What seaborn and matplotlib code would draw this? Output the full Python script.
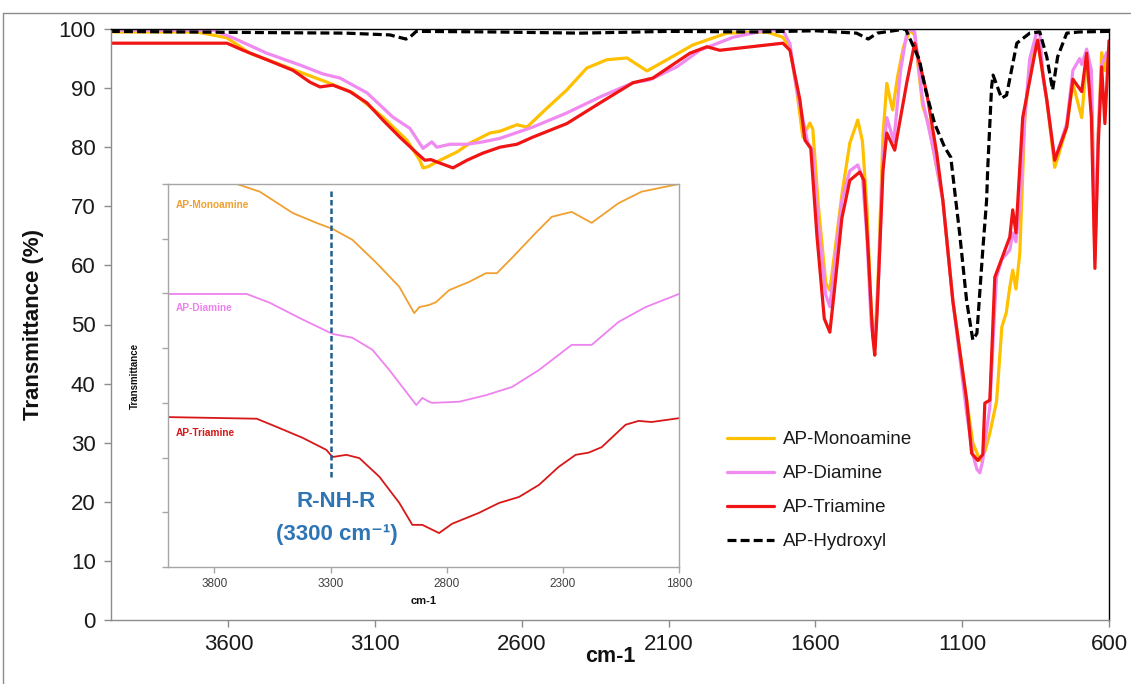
import matplotlib
matplotlib.use("Agg")
import matplotlib.pyplot as plt
from matplotlib.lines import Line2D
import seaborn as sns

# ---------------- FTIR spectra (wavenumber in cm-1, transmittance in %) ----------------
wn_mono = [4000, 3707, 3605, 3527, 3435, 3356, 3264, 3176, 3074, 2992, 2948, 2937, 2920,
           2879, 2821, 2777, 2709, 2675, 2617, 2583, 2515, 2447, 2379, 2311, 2242, 2174,
           2106, 2018, 1902, 1766, 1711, 1687, 1665, 1643, 1619, 1609, 1590, 1565, 1551,
           1535, 1510, 1483, 1456, 1440, 1425, 1410, 1398, 1385, 1370, 1357, 1345, 1337,
           1320, 1300, 1278, 1262, 1235, 1215, 1200, 1166, 1132, 1085, 1064, 1040, 1023,
           1006, 983, 965, 950, 938, 928, 917, 904, 887, 870, 846, 843, 825, 812, 785,
           770, 744, 723, 693, 676, 660, 648, 637, 625, 614, 600]
t_mono = [99.5, 99.5, 98.5, 95.9, 94.2, 92.7, 91.0, 89.2, 85.1, 81.2, 77.8, 76.5, 76.7,
          77.8, 79.2, 80.7, 82.4, 82.7, 83.8, 83.4, 86.6, 89.7, 93.4, 94.8, 95.1, 92.9,
          94.8, 97.3, 99.3, 99.5, 98.6, 96.8, 90.0, 81.7, 84.1, 83.0, 70.0, 57.0, 55.8,
          62.0, 72.0, 80.7, 84.6, 81.0, 70.0, 52.0, 46.0, 60.0, 82.0, 90.8, 88.0, 86.3,
          92.0, 97.0, 99.8, 99.0, 87.0, 84.0, 80.0, 71.0, 54.0, 37.2, 30.0, 27.0, 28.5,
          31.6, 37.0, 49.6, 52.0, 56.3, 59.2, 56.0, 62.0, 84.6, 94.0, 97.6, 98.1, 92.0,
          88.0, 76.6, 79.0, 83.4, 90.8, 85.0, 94.8, 92.0, 62.0, 82.0, 96.0, 93.0, 97.0]

wn_di = [4000, 3652, 3584, 3469, 3356, 3278, 3220, 3128, 3040, 2982, 2937, 2907, 2890,
         2845, 2787, 2733, 2675, 2563, 2447, 2334, 2222, 2164, 2072, 1994, 1881, 1766,
         1711, 1687, 1665, 1626, 1610, 1590, 1565, 1551, 1535, 1510, 1483, 1456, 1440,
         1425, 1410, 1398, 1385, 1370, 1357, 1345, 1333, 1310, 1290, 1278, 1262, 1235,
         1200, 1166, 1132, 1085, 1064, 1050, 1040, 1030, 1023, 1006, 990, 983, 965, 938,
         928, 917, 904, 887, 870, 846, 836, 825, 812, 785, 770, 744, 723, 700, 693, 676,
         660, 648, 637, 625, 608, 600]
t_di = [99.8, 99.8, 98.5, 95.9, 93.9, 92.4, 91.7, 89.2, 85.1, 83.2, 79.8, 80.9, 80.0,
        80.5, 80.5, 80.9, 81.5, 83.4, 85.8, 88.5, 90.9, 91.4, 93.6, 96.4, 98.6, 99.8,
        99.8, 97.5, 90.0, 80.7, 79.5, 67.0, 55.0, 53.0, 60.0, 71.0, 76.0, 77.0, 75.0,
        65.0, 50.0, 46.0, 58.0, 78.0, 85.0, 83.0, 81.0, 93.0, 99.0, 100.0, 99.5, 88.0,
        80.0, 71.0, 54.0, 35.0, 28.0, 25.5, 24.9, 27.0, 30.0, 36.0, 52.0, 58.0, 61.0,
        62.6, 65.5, 64.0, 70.0, 85.0, 95.0, 99.5, 99.5, 92.0, 88.0, 78.0, 80.0, 84.0,
        93.0, 95.0, 94.0, 96.6, 93.0, 61.0, 82.0, 93.9, 96.0, 95.0]

wn_tri = [4000, 3605, 3550, 3469, 3380, 3322, 3288, 3244, 3186, 3128, 3074, 3016, 2958,
          2931, 2910, 2879, 2835, 2787, 2733, 2675, 2617, 2563, 2447, 2334, 2222, 2154,
          2028, 1970, 1926, 1711, 1687, 1653, 1636, 1616, 1595, 1570, 1551, 1535, 1510,
          1483, 1449, 1435, 1420, 1405, 1398, 1390, 1370, 1357, 1330, 1289, 1262, 1221,
          1187, 1166, 1132, 1085, 1068, 1047, 1030, 1023, 1006, 989, 938, 928, 917, 894,
          846, 843, 812, 785, 744, 723, 693, 676, 660, 648, 637, 625, 614, 600]
t_tri = [97.6, 97.6, 96.4, 94.8, 93.0, 91.0, 90.2, 90.5, 89.4, 87.5, 84.6, 81.7, 79.0,
         77.8, 77.9, 77.3, 76.5, 77.8, 79.0, 80.0, 80.5, 81.7, 84.0, 87.5, 90.9, 91.7,
         95.9, 97.0, 96.4, 97.6, 96.4, 88.0, 81.2, 79.8, 65.0, 51.0, 48.7, 56.0, 68.0,
         74.4, 75.8, 74.4, 62.0, 48.0, 44.8, 52.0, 76.0, 82.4, 79.5, 90.9, 97.6, 89.2,
         79.0, 71.0, 54.0, 37.2, 28.2, 27.0, 28.0, 36.7, 37.2, 58.0, 64.8, 69.4, 65.5,
         85.0, 97.6, 98.1, 88.0, 77.8, 83.4, 91.5, 89.4, 95.9, 85.0, 59.5, 80.0, 93.6,
         84.0, 98.0]

wn_hyd = [4000, 3500, 3200, 3050, 2995, 2982, 2960, 2700, 2400, 2100, 1800, 1600, 1460,
          1420, 1390, 1293, 1246, 1225, 1194, 1160, 1139, 1122, 1109, 1085, 1064, 1050,
          1030, 1017, 1013, 1000, 995, 966, 949, 914, 870, 836, 812, 792, 775, 744, 700, 600]
t_hyd = [99.6, 99.4, 99.3, 99.0, 98.3, 98.6, 99.6, 99.5, 99.3, 99.6, 99.5, 99.7, 99.3,
         98.3, 99.3, 100.0, 94.8, 89.7, 84.0, 80.0, 78.3, 71.0, 65.5, 54.0, 47.4, 48.5,
         62.6, 71.0, 76.6, 90.2, 92.2, 88.3, 88.8, 97.6, 99.3, 99.5, 95.3, 89.7, 95.3,
         99.3, 99.5, 99.6]

series_labels = ["AP-Monoamine", "AP-Diamine", "AP-Triamine", "AP-Hydroxyl"]
series_colors = ["#FFC000", "#F08AF0", "#F01414", "#000000"]

x_ticks = [3600, 3100, 2600, 2100, 1600, 1100, 600]
y_ticks = [0, 10, 20, 30, 40, 50, 60, 70, 80, 90, 100]

# ---------------- Inset: 4000-1800 cm-1 region, offset traces (arb. units) ----------------
in_wn_mono = [4000, 3704, 3605, 3463, 3361, 3292, 3206, 3103, 3004, 2940, 2918, 2875, 2846,
              2790, 2704, 2631, 2584, 2519, 2416, 2348, 2262, 2176, 2060, 1961, 1800]
in_t_mono = [70.0, 70.0, 68.6, 64.7, 62.9, 61.8, 59.8, 55.6, 51.2, 46.4, 47.5, 47.9, 48.4,
             50.6, 52.1, 53.7, 53.7, 56.5, 61.1, 64.0, 64.9, 62.9, 66.5, 68.6, 70.0]

in_wn_di = [4000, 3661, 3562, 3433, 3292, 3206, 3120, 3047, 2931, 2905, 2876, 2863, 2747,
            2631, 2519, 2403, 2262, 2176, 2060, 1944, 1800]
in_t_di = [49.9, 49.9, 48.3, 45.5, 42.6, 41.9, 39.7, 36.0, 29.6, 30.9, 30.2, 30.0, 30.2,
           31.4, 32.9, 36.0, 40.6, 40.6, 44.8, 47.5, 49.9]

in_wn_tri = [4000, 3618, 3532, 3420, 3318, 3292, 3232, 3176, 3090, 3004, 2948, 2905, 2876,
             2833, 2777, 2661, 2575, 2489, 2403, 2318, 2245, 2189, 2133, 2030, 1974, 1918, 1800]
in_t_tri = [27.4, 27.1, 25.6, 23.6, 21.4, 20.1, 20.5, 19.9, 16.5, 11.7, 7.7, 7.7, 7.1,
            6.2, 7.9, 9.9, 11.7, 12.8, 15.0, 18.3, 20.5, 20.9, 21.9, 26.0, 26.7, 26.5, 27.2]

inset_colors = ["#F0A030", "#EE82EE", "#D81818"]
inset_x_ticks = [3800, 3300, 2800, 2300, 1800]
inset_y_ticks = [0, 10, 20, 30, 40, 50, 60, 70]

nh_band = 3300            # secondary amine band marked in the inset
nh_band_span = (16.5, 69.0)

# ---------------- Figure ----------------
sns.set_theme(style="white")
plt.rcParams["font.family"] = ["Liberation Sans", "DejaVu Sans"]

W, H = 1131, 684
fig = plt.figure(figsize=(W / 100, H / 100), dpi=100)
fig.patch.set_facecolor("white")

# chart-area border (top and left edges visible)
fig.add_artist(Line2D([3 / W, 1.0], [1 - 13 / H, 1 - 13 / H], transform=fig.transFigure,
                      color="#8c8c8c", lw=1.0))
fig.add_artist(Line2D([3 / W, 3 / W], [0, 1 - 13 / H], transform=fig.transFigure,
                      color="#8c8c8c", lw=1.0))

ax = fig.add_axes([111 / W, (H - 620) / H, (1109 - 111) / W, (620 - 29) / H])

main_data = [(wn_mono, t_mono), (wn_di, t_di), (wn_tri, t_tri), (wn_hyd, t_hyd)]
for (wn, t), lab, col in zip(main_data, series_labels, series_colors):
    sns.lineplot(x=wn, y=t, ax=ax, color=col, lw=2.3, label=lab, estimator=None)
ax.lines[-1].set_dashes([2.8, 1.3])

ax.set_xlim(4000, 600)
ax.set_ylim(0, 100)
ax.set_xticks(x_ticks)
ax.set_yticks(y_ticks)
ax.tick_params(axis="both", which="both", bottom=True, left=True, direction="out",
               length=5, width=1, color="#8c8c8c", labelsize=16, labelcolor="#1a1a1a")
ax.tick_params(axis="x", pad=5)
ax.tick_params(axis="y", pad=6)
for side in ("left", "bottom"):
    ax.spines[side].set_color("#8c8c8c")
    ax.spines[side].set_linewidth(1.0)
for side in ("top", "right"):
    ax.spines[side].set_color("#000000")
    ax.spines[side].set_linewidth(1.0)

ax.set_xlabel("cm-1", fontsize=15.5, fontweight="bold", color="#111111")
ax.set_ylabel("Transmittance (%)", fontsize=16, fontweight="bold", color="#111111")
ax.xaxis.set_label_coords(0.5, (620 - 646) / 591)
ax.yaxis.set_label_coords((44 - 111) / 998, 0.5)

leg = ax.legend(loc="upper left", bbox_to_anchor=(727 / W, (H - 431) / H),
                bbox_transform=fig.transFigure, frameon=False, fontsize=13.5,
                handlelength=2.5, handletextpad=0.5, labelspacing=0.9,
                borderpad=0, borderaxespad=0)
for txt in leg.get_texts():
    txt.set_color("#1a1a1a")

# ---------------- Inset axes ----------------
axin = fig.add_axes([168 / W, (H - 567) / H, (679 - 168) / W, (567 - 184) / H])
axin.set_facecolor("white")
axin.set_zorder(5)

inset_data = [(in_wn_mono, in_t_mono), (in_wn_di, in_t_di), (in_wn_tri, in_t_tri)]
for (wn, t), col in zip(inset_data, inset_colors):
    sns.lineplot(x=wn, y=t, ax=axin, color=col, lw=1.3, estimator=None)

axin.plot([nh_band, nh_band], list(nh_band_span), color="#1F5F8F", lw=1.8,
          dashes=[2.2, 1.2])
axin.text(3277, 11.9, "R-NH-R", ha="center", va="center", color="#2E75B6",
          fontsize=16, fontweight="bold")
axin.text(3275, 5.85, f"({nh_band} cm\u207b\u00b9)", ha="center", va="center",
          color="#2E75B6", fontsize=16, fontweight="bold")

axin.text(3966, 66.2, series_labels[0], color=inset_colors[0], fontsize=7.3,
          fontweight="bold", ha="left", va="center")
axin.text(3966, 47.3, series_labels[1], color=inset_colors[1], fontsize=7.3,
          fontweight="bold", ha="left", va="center")
axin.text(3966, 24.5, series_labels[2], color=inset_colors[2], fontsize=7.3,
          fontweight="bold", ha="left", va="center")

axin.set_xlim(4000, 1800)
axin.set_ylim(0, 70)
axin.set_xticks(inset_x_ticks)
axin.set_yticks(inset_y_ticks)
axin.set_yticklabels([])
axin.tick_params(axis="both", bottom=True, left=True, direction="out", length=4,
                 width=1, color="#a6a6a6", labelsize=8.5, labelcolor="#404040", pad=4)
for side in axin.spines:
    axin.spines[side].set_color("#a6a6a6")
    axin.spines[side].set_linewidth(1.0)
axin.set_xlabel("cm-1", fontsize=8, fontweight="bold", color="#111111", labelpad=2)
axin.set_ylabel("Transmittance", fontsize=7, fontweight="bold", color="#111111")
axin.yaxis.set_label_coords((140 - 168) / 511, 0.5)
axin.xaxis.set_label_coords(0.5, (567 - 596) / 383)
if axin.get_legend() is not None:
    axin.get_legend().remove()

fig.savefig("out.png", dpi=100, facecolor="white")
